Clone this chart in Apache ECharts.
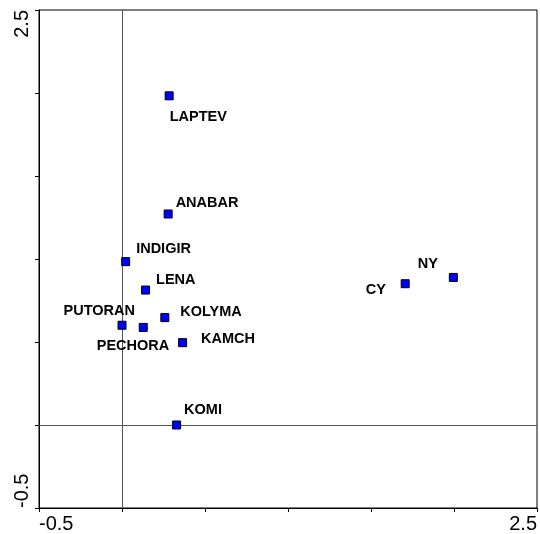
<!DOCTYPE html>
<html>
<head>
<meta charset="utf-8">
<script src="https://cdn.jsdelivr.net/npm/echarts@6/dist/echarts.min.js"></script>
<style>
  html, body { margin: 0; padding: 0; background: #fff; }
  #chart { width: 540px; height: 534px; }
</style>
</head>
<body>
<div id="chart"></div>
<script>
// Site scores on the first two ordination axes
const sites = ['LAPTEV', 'ANABAR', 'INDIGIR', 'LENA', 'KOLYMA', 'PUTORAN', 'PECHORA', 'KAMCH', 'KOMI', 'CY', 'NY'];
const axis1 = [0.284, 0.278, 0.022, 0.142, 0.258, 0.000, 0.128, 0.365, 0.329, 1.706, 1.996];
const axis2 = [1.983, 1.271, 0.984, 0.813, 0.647, 0.601, 0.588, 0.496, 0.000, 0.851, 0.889];

// Axis range; only the end values carry a label
const axisMin = -0.5;
const axisMax = 2.5;
const tickStep = 0.5;

// Label placement relative to each marker centre (pixels)
const labelOffsets = [[1, 22], [8, -11], [11, -12], [11, -10], [16, -5], [-58, -14], [-46, 19], [19, -3], [8, -15], [-39, 7], [-35, -13]];

const FONT = 'Arial, "Liberation Sans", Helvetica, sans-serif';
const MARK = 8;

const points = sites.map((name, i) => ({
  name: name,
  value: [axis1[i], axis2[i]],
  // position is measured from the marker's top-left corner
  label: { position: [MARK / 2 + labelOffsets[i][0], MARK / 2 + labelOffsets[i][1]] }
}));

const endLabel = v => (Math.abs(v - axisMin) < 1e-9 || Math.abs(v - axisMax) < 1e-9) ? v.toFixed(1) : '';

const chart = echarts.init(document.getElementById('chart'), null, { renderer: 'canvas' });
chart.setOption({
  animation: false,
  backgroundColor: '#fff',
  grid: {
    left: 39, right: 2.5, top: 10, bottom: 25,
    show: true, borderColor: '#000', borderWidth: 1, backgroundColor: 'transparent'
  },
  xAxis: {
    type: 'value', min: axisMin, max: axisMax, interval: tickStep,
    axisLine: { show: true, onZero: false, lineStyle: { color: '#000', width: 1 } },
    axisTick: { show: true, length: 4, lineStyle: { color: '#000' } },
    splitLine: { show: false },
    axisLabel: {
      formatter: endLabel, color: '#000', fontFamily: FONT, fontSize: 20, margin: 6,
      alignMinLabel: 'left', alignMaxLabel: 'right'
    }
  },
  yAxis: {
    type: 'value', min: axisMin, max: axisMax, interval: tickStep,
    axisLine: { show: true, onZero: false, lineStyle: { color: '#000', width: 1 } },
    axisTick: { show: true, length: 4, lineStyle: { color: '#000' } },
    splitLine: { show: false },
    axisLabel: {
      formatter: endLabel, color: '#000', fontFamily: FONT, fontSize: 20, margin: 7,
      rotate: 90, verticalAlign: 'bottom',
      alignMinLabel: 'left', alignMaxLabel: 'right'
    }
  },
  series: [{
    type: 'scatter',
    symbol: 'rect',
    symbolSize: MARK,
    itemStyle: { color: '#0000ff', borderColor: '#000', borderWidth: 1, opacity: 1 },
    label: {
      show: true,
      formatter: p => p.name,
      align: 'left',
      verticalAlign: 'middle',
      color: '#000',
      fontFamily: FONT,
      fontWeight: 'bold',
      fontSize: 14.5
    },
    labelLayout: { hideOverlap: false },
    data: points,
    z: 3,
    markLine: {
      silent: true,
      symbol: 'none',
      label: { show: false },
      lineStyle: { color: '#555', width: 1, type: 'solid' },
      data: [{ xAxis: 0 }, { yAxis: 0 }],
      z: 1
    }
  }]
});
</script>
</body>
</html>
